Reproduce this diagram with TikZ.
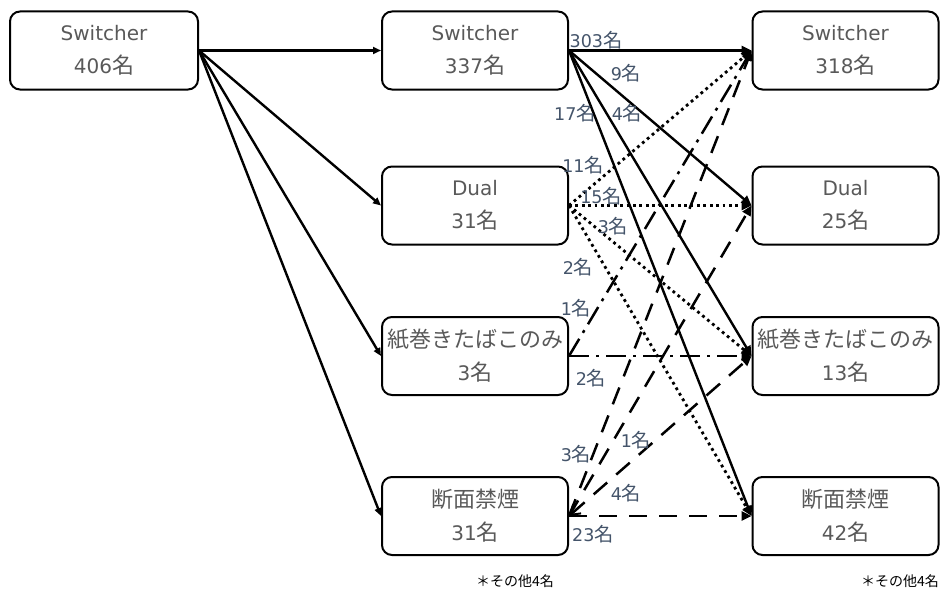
\documentclass[tikz,border=0pt]{standalone}
\usepackage{fontspec}
\setmainfont{DejaVu Sans}
\newfontfamily\jp[Scale=1.1]{Noto Sans CJK JP}
\newfontfamily\jpnote{Noto Sans CJK JP}
\usetikzlibrary{arrows.meta}
\definecolor{boxtext}{HTML}{595959}
\definecolor{lbltext}{HTML}{44546A}
\begin{document}
\begin{tikzpicture}[x=1pt,y=-1pt,
  box/.style={draw=black, line width=2pt, rounded corners=10pt,
    minimum width=186pt, minimum height=78pt, inner sep=0pt, align=center,
    text=boxtext, font=\fontsize{20}{33}\selectfont},
  lbl/.style={text=lbltext, inner sep=0pt, font=\fontsize{17.5}{19}\selectfont},
  note/.style={inner sep=0pt, font=\jpnote\fontsize{14}{16}\selectfont},
  tip/.style={-{Triangle[length=10pt,width=9pt]}},
  solidflow/.style={tip, line width=2.4pt},
  dotflow/.style={tip, line width=2.8pt, dash pattern=on 2.8pt off 3.6pt},
  dashdotflow/.style={tip, line width=2.5pt, dash pattern=on 20pt off 7pt on 3pt off 7pt},
  dashflow/.style={tip, line width=2.5pt, dash pattern=on 18pt off 12pt},
]
\useasboundingbox (0,0) rectangle (944,594);

% start column
\node[box, minimum width=188pt] (L) at (104,50.5) {Switcher\\406{\jp 名}};

% middle column
\node[box] (MS) at (475,50.5)  {Switcher\\337{\jp 名}};
\node[box] (MD) at (475,205.5) {Dual\\31{\jp 名}};
\node[box] (MK) at (475,356)   {{\jp 紙巻きたばこのみ}\\3{\jp 名}};
\node[box] (MB) at (475,516)   {{\jp 断面禁煙}\\31{\jp 名}};

% end column
\node[box] (RS) at (845.5,50.5)  {Switcher\\318{\jp 名}};
\node[box] (RD) at (845.5,205.5) {Dual\\25{\jp 名}};
\node[box] (RK) at (845.5,356)   {{\jp 紙巻きたばこのみ}\\13{\jp 名}};
\node[box] (RB) at (845.5,516)   {{\jp 断面禁煙}\\42{\jp 名}};

% start -> middle
\draw[solidflow, -{Triangle[length=8pt,width=7pt]}] (L.east) -- (MS.west);
\draw[solidflow, -{Triangle[length=8pt,width=7pt]}] (L.east) -- (MD.west);
\draw[solidflow, -{Triangle[length=8pt,width=7pt]}] (L.east) -- (MK.west);
\draw[solidflow, -{Triangle[length=8pt,width=7pt]}] (L.east) -- (MB.west);

% Switcher -> end
\draw[solidflow] (MS.east) -- (RS.west);
\draw[solidflow] (MS.east) -- (RD.west);
\draw[solidflow] (MS.east) -- (RK.west);
\draw[solidflow] (MS.east) -- (RB.west);

% Dual -> end
\draw[dotflow] (MD.east) -- (RS.west);
\draw[dotflow] (MD.east) -- (RD.west);
\draw[dotflow] (MD.east) -- (RK.west);
\draw[dotflow] (MD.east) -- (RB.west);

% cigarettes only -> end
\draw[dashdotflow] (MK.east) -- (RS.west);
\draw[dashdotflow] (MK.east) -- (RK.west);

% quit -> end
\draw[dashflow] (MB.east) -- (RS.west);
\draw[dashflow] (MB.east) -- (RD.west);
\draw[dashflow, {Straight Barb[length=9pt,width=12pt,line width=2pt]}-{Triangle[length=10pt,width=9pt]}] (MB.east) -- (RK.west);
\draw[dashflow] (MB.east) -- (RB.west);

% counts
\node[lbl] (c303) at (596,40)  {303{\jp 名}};
\node[lbl] (c9)   at (626,73)  {9{\jp 名}};
\node[lbl] (c17)  at (575,113) {17{\jp 名}};
\node[lbl] (c4)   at (627,113) {4{\jp 名}};
\node[lbl] (c11)  at (583,165) {11{\jp 名}};
\node[lbl] (c15)  at (601,196) {15{\jp 名}};
\node[lbl] (c3a)  at (613,226) {3{\jp 名}};
\node[lbl] (c2a)  at (578,267) {2{\jp 名}};
\node[lbl] (c1a)  at (576,308) {1{\jp 名}};
\node[lbl] (c2b)  at (591,378) {2{\jp 名}};
\node[lbl] (c3b)  at (576,454) {3{\jp 名}};
\node[lbl] (c1b)  at (636,440) {1{\jp 名}};
\node[lbl] (c4b)  at (626,493) {4{\jp 名}};
\node[lbl] (c23)  at (593,534) {23{\jp 名}};

% footnotes
\node[note] (n1) at (515,581) {＊その他4名};
\node[note] (n2) at (900,581) {＊その他4名};
\end{tikzpicture}
\end{document}
